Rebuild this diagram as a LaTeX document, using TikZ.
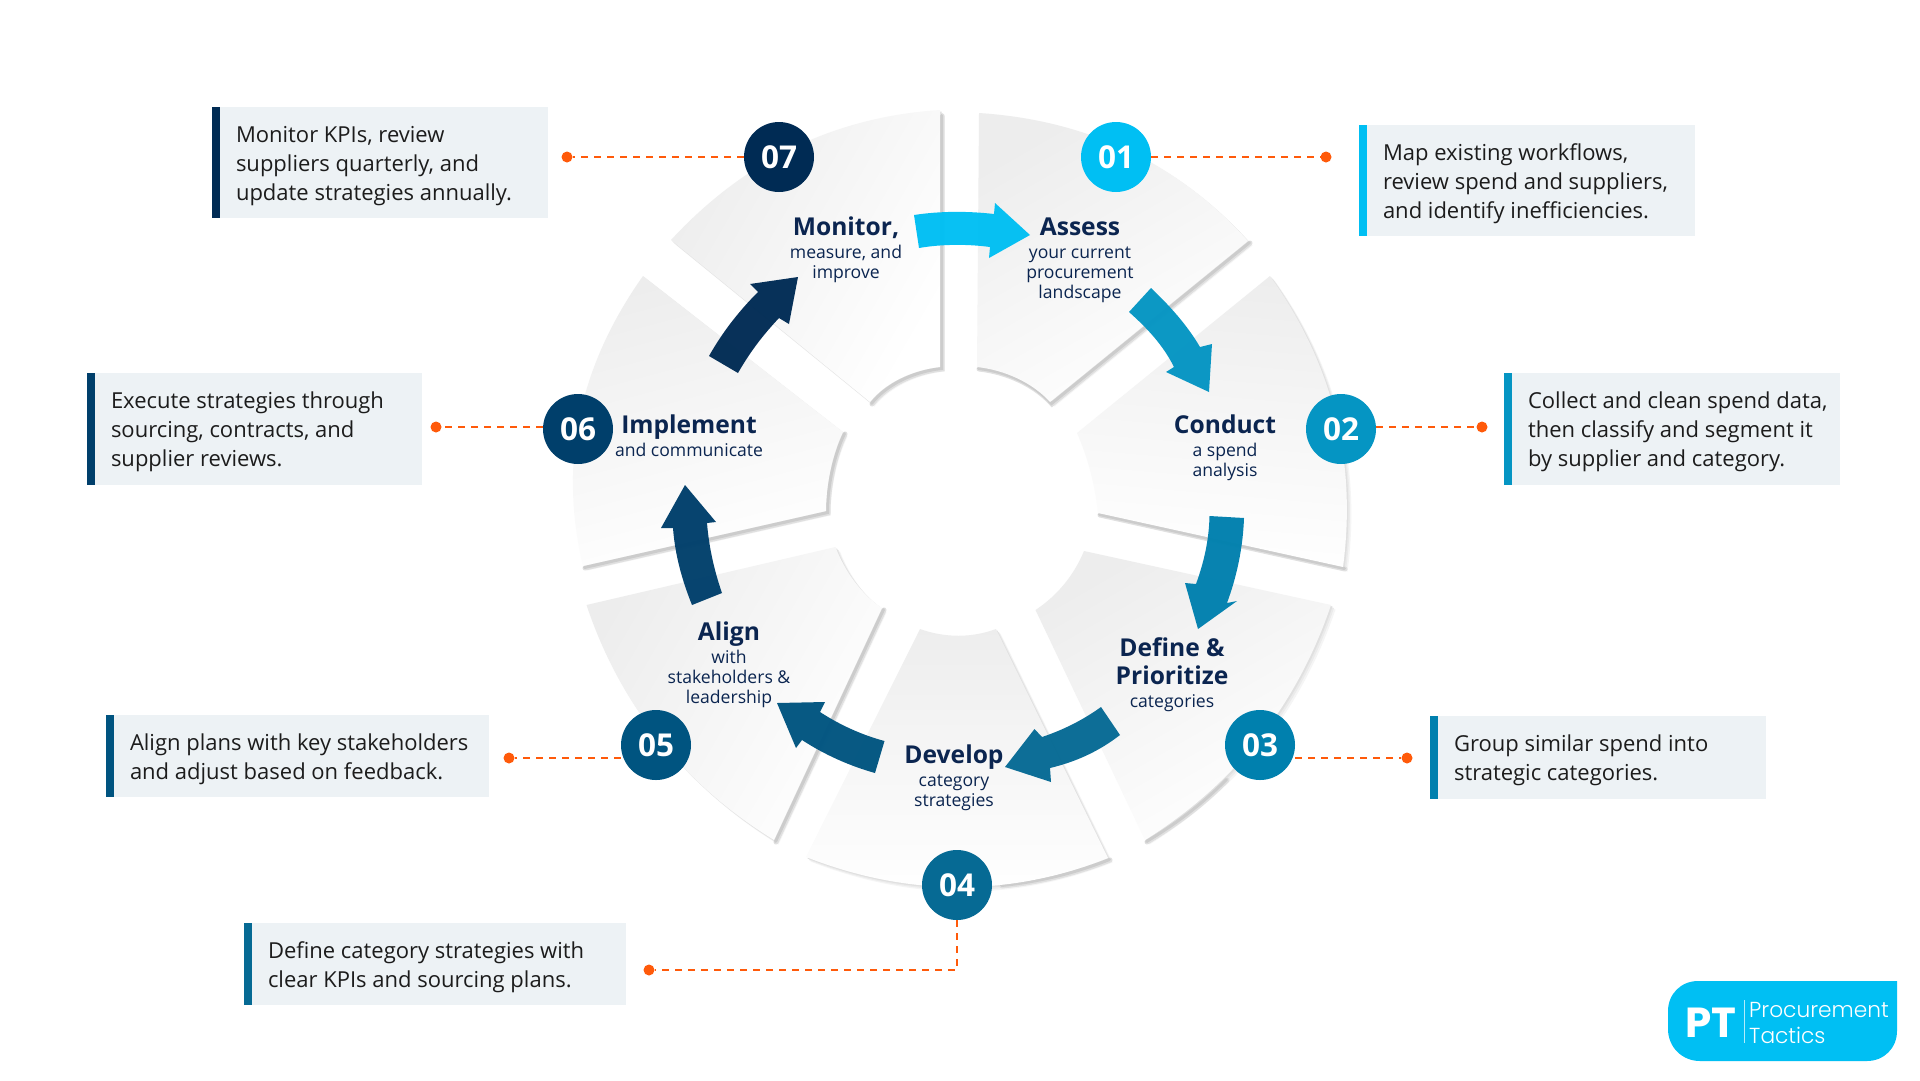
\documentclass[tikz,border=0pt]{standalone}
\usepackage{fontspec}
\setmainfont{Open Sans}
\newfontfamily\popb[BoldFont={Poppins Bold}]{Poppins}
\newfontfamily\popl{Poppins Light}
\definecolor{c1}{HTML}{00BFF3}
\definecolor{c2}{HTML}{0595C3}
\definecolor{c3}{HTML}{0080AE}
\definecolor{c4}{HTML}{066A94}
\definecolor{c5}{HTML}{005480}
\definecolor{c6}{HTML}{003F6B}
\definecolor{c7}{HTML}{002B54}
\definecolor{boxbg}{HTML}{EDF2F5}
\definecolor{orng}{HTML}{FF5A0A}
\definecolor{navy}{HTML}{0B2550}
\definecolor{bodytxt}{HTML}{1C1C1C}
\newcommand{\ttl}[1]{{\fontsize{24.6}{28}\selectfont\bfseries\rule[-9pt]{0pt}{28pt}#1}}
\newcommand{\subt}[1]{{\fontsize{17.6}{20}\selectfont\rule[-6pt]{0pt}{20pt}#1}}
\newcommand{\seg}[3]{%
  \fill[black!4,shift={(4.5,4.5)}] #1;
  \fill[black!8,shift={(3,3)}] #1;
  \fill[black!12,shift={(1.5,1.5)}] #1;
  \draw[black!12,line width=5pt,line cap=round,shift={(2,2)}] #3;
  \draw[black!20,line width=3pt,line cap=round,shift={(1.5,1.5)}] #3;
  \shade[top color=black!7,middle color=black!1.5,bottom color=white,shading angle=#2] #1;
}
\newcommand{\infobox}[7]{%
  \pgfmathsetlengthmacro{\wb}{#4-#2-8}%
  \pgfmathsetlengthmacro{\hb}{#5-#3}%
  \node[barbox,fill=#6,minimum width=8pt,minimum height=\hb] (bar#1) at ({#2+4},{(#3+#5)/2}) {};
  \node[barbox,fill=boxbg,minimum width=\wb,minimum height=\hb] (box#1) at ({(#2+8+#4)/2},{(#3+#5)/2}) {};
  \node[textbox] (txt#1) at ({#2+24},{(#3+#5)/2}) {\rule{0pt}{23pt}#7\rule[-6pt]{0pt}{6pt}};
}
\tikzset{
  barbox/.style={inner sep=0pt,outer sep=0pt,draw=none},
  textbox/.style={anchor=west,inner sep=0pt,outer sep=0pt,align=left,text=bodytxt,
    font=\fontsize{22}{29}\selectfont},
  numc/.style={circle,inner sep=0pt,minimum size=70pt,text=white,font=\fontsize{31.5}{32}\selectfont\bfseries},
  dotn/.style={circle,fill=orng,inner sep=0pt,minimum size=11pt},
  conn/.style={draw=orng,line width=2pt,dash pattern=on 7pt off 6pt},
  stepl/.style={anchor=north,align=center,text=navy,inner sep=0pt,
    execute at begin node={\lineskiplimit=1000pt\lineskip=0pt}},
  arr/.style={fill opacity=0.97},
}
\begin{document}
\begin{tikzpicture}[x=1pt,y=-1pt]
\useasboundingbox (0,0) rectangle (1920,1080);
\fill[white] (0,0) rectangle (1920,1080);
% segments
\seg{(940,110) .. controls (833,117) and (744,161) .. (671,240) -- (870,402) .. controls (885,383) and (912,370) .. (940,367) -- cycle}{60}{(940,114) -- (940,367) .. controls (912,370) and (885,383) .. (870,402)}
\seg{(979,113) .. controls (1086,120) and (1177,162) .. (1248,241) -- (1050,402) .. controls (1033,383) and (1005,370) .. (977,367) -- cycle}{30}{(1248,241) -- (1050,402) .. controls (1033,383) and (1005,370) .. (977,367)}
\seg{(1270,276) .. controls (1333,364) and (1357,461) .. (1343,567) -- (1098,513) .. controls (1095,485) and (1088,458) .. (1077,433) -- cycle}{-5}{(1343,567) -- (1098,513)}
\seg{(1331,605) .. controls (1297,705) and (1235,784) .. (1145,840) -- (1035.5,610) .. controls (1058,595) and (1074,575) .. (1084,551) -- cycle}{30}{(1225,778) .. controls (1200,803) and (1175,822) .. (1145,840)}
\seg{(996,629) .. controls (972,638) and (945,638) .. (920,629) -- (806,857) .. controls (908,897) and (1010,897) .. (1108,858) -- cycle}{0}{(1000,884) .. controls (1040,880) and (1075,871) .. (1108,858)}
\seg{(835.5,547) -- (586.5,605) .. controls (620,705) and (683,784) .. (774,840) -- (882,608) .. controls (862,595) and (845,572) .. cycle}{60}{(882,608) -- (774,840)}
\seg{(643,276) .. controls (580,365) and (558,461) .. (583,566) -- (826,511) .. controls (826,485) and (832,455) .. (843,432) -- cycle}{15}{(843,432) .. controls (832,455) and (826,485) .. (826,511) -- (583,566)}
% arrows
\fill[c1,arr] (914,215) .. controls (940,211) and (968,211) .. (994,214) -- (995,203) -- (1030,235) -- (989,258) -- (990,247) .. controls (968,244) and (942,244) .. (919,248) -- cycle;
\fill[c2,arr] (1151,288) .. controls (1170,306) and (1187,325) .. (1200,347) -- (1212,344) -- (1209,392) -- (1166,372) -- (1174,367) .. controls (1163,345) and (1147,328) .. (1129,312) -- cycle;
\fill[c3,arr] (1209.5,516) -- (1244,518) .. controls (1243,547) and (1237,576) .. (1227,603) -- (1237,601) -- (1198,629) -- (1185,583) -- (1196,584) .. controls (1204,562) and (1209,540) .. (1209.5,516) -- cycle;
\fill[c4,arr] (1101,707) -- (1120,735) .. controls (1098,752) and (1075,762) .. (1050,768) -- (1051,782) -- (1005,767) -- (1034.5,729) -- (1042,737) .. controls (1063,730) and (1083,720) .. (1101,707) -- cycle;
\fill[c5,arr] (884.5,741) -- (875,773) .. controls (850,766) and (825,755) .. (802,740) -- (796,748) -- (777,703) -- (825,702) -- (820,712) .. controls (840,725) and (862,735) .. (884.5,741) -- cycle;
\fill[c6,arr] (692,605) -- (722,593) .. controls (714,570) and (709,547) .. (707,523) -- (716,522) -- (685,485) -- (661,528) -- (673,528) .. controls (675,555) and (682,580) .. (692,605) -- cycle;
\fill[c7,arr] (709,356) -- (738,373) .. controls (750,352) and (763,335) .. (779,318) -- (789,324) -- (798,277) -- (750,284) -- (758,292) .. controls (738,312) and (722,333) .. (709,356) -- cycle;
% step labels
\node[stepl] (l7) at (846,216) {\ttl{Monitor,}\\\subt{measure, and}\\\subt{improve}};
\node[stepl] (l1) at (1080,216) {\ttl{Assess}\\\subt{your current}\\\subt{procurement}\\\subt{landscape}};
\node[stepl] (l2) at (1225,414) {\ttl{Conduct}\\\subt{a spend}\\\subt{analysis}};
\node[stepl] (l3) at (1172,637) {\ttl{Define \&}\\\ttl{Prioritize}\\\subt{categories}};
\node[stepl] (l4) at (954,744) {\ttl{Develop}\\\subt{category}\\\subt{strategies}};
\node[stepl] (l5) at (729,621) {\ttl{Align}\\\subt{with}\\\subt{stakeholders \&}\\\subt{leadership}};
\node[stepl] (l6) at (689,414) {\ttl{Implement}\\\subt{and communicate}};
% number circles
\node[numc,fill=c1] (n1) at (1116,157) {\raisebox{-2pt}{01}};
\node[numc,fill=c2] (n2) at (1341,429) {\raisebox{-2pt}{02}};
\node[numc,fill=c3] (n3) at (1260,745) {\raisebox{-2pt}{03}};
\node[numc,fill=c4] (n4) at (957,885) {\raisebox{-2pt}{04}};
\node[numc,fill=c5] (n5) at (656,745) {\raisebox{-2pt}{05}};
\node[numc,fill=c6] (n6) at (578,429) {\raisebox{-2pt}{06}};
\node[numc,fill=c7] (n7) at (779,157) {\raisebox{-2pt}{07}};
% dots and connectors
\node[dotn] (d1) at (1326,157) {};
\node[dotn] (d2) at (1482,427) {};
\node[dotn] (d3) at (1407,758) {};
\node[dotn] (d4) at (649,970) {};
\node[dotn] (d5) at (509,758) {};
\node[dotn] (d6) at (436,427) {};
\node[dotn] (d7) at (567,157) {};
\draw[conn] (n1.east) -- (d1);
\draw[conn] (d2 -| n2.east) -- (d2);
\draw[conn] (d3 -| n3.east) -- (d3);
\draw[conn] (n4.south) -- (n4.south |- d4) -- (d4);
\draw[conn] (d5 -| n5.west) -- (d5);
\draw[conn] (d6 -| n6.west) -- (d6);
\draw[conn] (n7.west) -- (d7);
% info boxes
\infobox{1}{1359}{125}{1695}{236}{c1}{Map existing workflows,\\review spend and suppliers,\\and identify inefficiencies.}
\infobox{2}{1504}{373}{1840}{485}{c2}{Collect and clean spend data,\\then classify and segment it\\by supplier and category.}
\infobox{3}{1430}{716}{1766}{799}{c3}{Group similar spend into\\strategic categories.}
\infobox{4}{244}{923}{626}{1005}{c4}{Define category strategies with\\clear KPIs and sourcing plans.}
\infobox{5}{106}{715}{489}{797}{c5}{Align plans with key stakeholders\\and adjust based on feedback.}
\infobox{6}{87}{373}{422}{485}{c6}{Execute strategies through\\sourcing, contracts, and\\supplier reviews.}
\infobox{7}{212}{107}{548}{218}{c7}{Monitor KPIs, review\\suppliers quarterly, and\\update strategies annually.}
% logo
\fill[c1] (1698,981) -- (1897,981) -- (1897,1031) .. controls (1897,1048) and (1884,1061) .. (1867,1061) -- (1700,1061) .. controls (1682,1061) and (1668,1047) .. (1668,1029) -- (1668,1011) .. controls (1668,994) and (1681,981) .. (1698,981) -- cycle;
\node[anchor=base west,inner sep=0pt,text=white,font=\popb\bfseries\fontsize{42}{42}\selectfont] (pt) at (1685,1037) {PT};
\draw[white!70!c1,line width=1pt] (1744,1000) -- (1744,1043);
\node[anchor=base west,inner sep=0pt,text=white,font=\popl\fontsize{21.7}{22}\selectfont] (pc) at (1749,1017) {Procurement};
\node[anchor=base west,inner sep=0pt,text=white,font=\popl\fontsize{21.7}{22}\selectfont] (tc) at (1749,1043) {Tactics};
\end{tikzpicture}
\end{document}
